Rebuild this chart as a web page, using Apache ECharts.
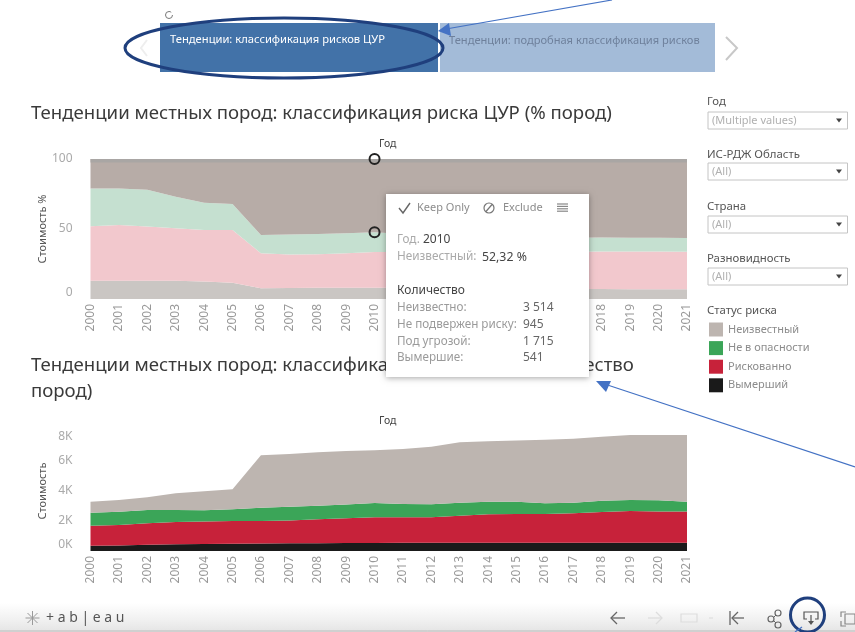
<!DOCTYPE html>
<html><head><meta charset="utf-8">
<script src="https://cdn.jsdelivr.net/npm/echarts@6/dist/echarts.min.js"></script>
<style>html,body{margin:0;background:#fff}#c{width:855px;height:632px}</style></head>
<body><div id="c"></div>
<script>
const years=['2000','2001','2002','2003','2004','2005','2006','2007','2008','2009','2010','2011','2012','2013','2014','2015','2016','2017','2018','2019','2020','2021'];
const shareExtinct=[13,13,13,13,12.5,11.6,7.6,7.8,8,8,8.06,8,7.9,7.7,7.5,7.4,7.3,7.2,7.1,7,7,7];
const shareAtRisk=[39,39.9,38.7,37.5,36.8,37.7,25,24,24,24.7,25.54,25.5,25.1,25.3,26,26.2,26.4,26.6,26.8,27,27,26.8];
const shareNotAtRisk=[27,26.1,26.3,22.5,19.5,18.6,13.1,14.2,14.5,14.3,14.07,13,12,11.5,11,10.7,10.2,10,10,9.8,9.8,9.7];
const shareUnknown=[21,21,22,27,31.2,32.1,54.3,54,53.5,53,52.32,53.5,55,55.5,55.5,55.7,56.1,56.2,56.1,56.2,56.2,56.5];
const countExtinct=[350,370,410,450,470,490,500,510,520,530,541,545,550,550,550,550,550,550,550,550,550,550];
const countAtRisk=[1337,1363,1437,1483,1490,1510,1500,1520,1593,1650,1715,1702,1700,1803,1897,1917,1917,1963,2050,2117,2090,2090];
const countNotAtRisk=[866,887,886,800,751,780,887,923,907,920,945,886,863,867,840,820,713,707,753,733,740,647];
const countUnknown=[734,780,847,1114,1269,1333,3493,3514,3560,3567,3514,3667,3840,4027,4026,4073,4240,4267,4267,4333,4353,4446];
const shareTicks=[0,50,100];
const countTickStep=2000;
const statusNames=['Неизвестный','Не в опасности','Рискованно','Вымерший'];
const title1='Тенденции местных пород: классификация риска ЦУР (% пород)';
const title2a='Тенденции местных пород: классификация риска ЦУР (количество';
const title2b='пород)';
const filters=[['Год','(Multiple values)'],['ИС-РДЖ Область','(All)'],['Страна','(All)'],['Разновидность','(All)']];
const tipRows=[['Неизвестно:','3 514'],['Не подвержен риску:','945'],['Под угрозой:','1 715'],['Вымершие:','541']];

const FONT='"Noto Sans"';
const Z=50;
const els=[];
function txt(x,y,s,size,color,extra){els.push({type:'text',z:Z,x:x,y:y,style:Object.assign({text:s,font:size+'px '+FONT,fill:color,verticalAlign:'middle',align:'left'},extra||{})});}
function rect(x,y,w,h,style,extra){els.push(Object.assign({type:'rect',z:Z,shape:{x:x,y:y,width:w,height:h},style:style},extra||{}));}
function poly(pts,color,w){els.push({type:'polyline',z:Z,shape:{points:pts},style:{stroke:color,lineWidth:w||1.5,fill:null}});}
function line(x1,y1,x2,y2,color,w){els.push({type:'line',z:Z,shape:{x1:x1,y1:y1,x2:x2,y2:y2},style:{stroke:color,lineWidth:w||1.5}});}
function circ(cx,cy,r,color,w){els.push({type:'circle',z:Z,shape:{cx:cx,cy:cy,r:r},style:{stroke:color,lineWidth:w||1.5,fill:null}});}

// toolbar
rect(0,603,855,29,{fill:new echarts.graphic.LinearGradient(0,0,0,1,[{offset:0,color:'#ffffff'},{offset:.6,color:'#f0f0f0'},{offset:1,color:'#e4e4e4'}])});
line(0,631,855,631,'#bbbbbb',1);
// logo
const lx=32.5,ly=618;
[[ -7,0,7,0],[0,-7,0,7],[-5,-5,5,5],[-5,5,5,-5]].forEach(a=>line(lx+a[0],ly+a[1],lx+a[2],ly+a[3],'#9a9a9a',1));
txt(46,618,'+ a b | e a u',14,'#555');
// toolbar icons
poly([[617,612],[611,618],[617,624]],'#666',1.3);line(611,618,625,618,'#666',1.3);
poly([[656,612],[662,618],[656,624]],'#ddd',1.3);line(648,618,662,618,'#ddd',1.3);
rect(681,614,16,8,{fill:'none',stroke:'#ddd',lineWidth:1.2});
line(709,618,713,618,'#ddd',1.2);
line(730,611,730,625,'#666',1.3);poly([[738,612],[732,618],[738,624]],'#666',1.3);line(732,618,744,618,'#666',1.3);
circ(771,619,3,'#666',1.2);circ(778,613,3,'#666',1.2);circ(778,625,3,'#666',1.2);line(774,617,776,615,'#666',1);line(774,621,776,623,'#666',1);
poly([[807,619],[804,619],[804,612],[818,612],[818,619],[815,619]],'#555',1.2);line(811,615,811,623,'#555',1.2);
els.push({type:'polygon',z:Z,shape:{points:[[808,621],[814,621],[811,625]]},style:{fill:'#555'}});
poly([[841,617],[841,612],[846,612]],'#888',1.2);poly([[841,621],[841,626],[846,626]],'#888',1.2);rect(845,614,10,10,{fill:'none',stroke:'#888',lineWidth:1.2});
circ(807.5,615,17,'#1f3f7d',3);
line(795,632,802,627,'#4472c4',1.2);

// tabs
rect(160,23,278,49,{fill:'#4272a8'});
rect(440,23,275,49,{fill:'#a3bbd8'});
line(439,23,439,72,'#ffffff',2);
txt(170,40,'Тенденции: классификация рисков ЦУР',11.2,'#ffffff');
txt(449,41,'Тенденции: подробная классификация рисков',11.1,'#6f819c');
poly([[726,37],[737,48],[726,60]],'#c8c8c8',2);
poly([[147,40],[141,48],[147,56]],'#eeeeee',2);
els.push({type:'arc',z:Z,shape:{cx:169,cy:15,r:3.5,startAngle:0,endAngle:5.4,clockwise:true},style:{stroke:'#777',lineWidth:1,fill:null}});
els.push({type:'ellipse',z:Z,shape:{cx:284,cy:48,rx:159,ry:30},style:{stroke:'#1f3f7d',lineWidth:3,fill:null}});
line(612,0,446,29,'#4472c4',1.2);
els.push({type:'polygon',z:Z,shape:{points:[[438,31],[449,23],[451,36]]},style:{fill:'#4472c4'}});

// titles
txt(31,113.5,title1,18.6,'#3a3a3a');
txt(31,366,title2a,18.6,'#3a3a3a');
txt(31,392,title2b,18.6,'#3a3a3a');
txt(379,144,'Год',10.5,'#444');
txt(379,421,'Год',10.5,'#444');

// filters
const fy=[112,163,216,268];
const fly=[102,155,207,259];
filters.forEach((f,i)=>{
  txt(707,fly[i],f[0],11.4,'#555');
  rect(708,fy[i],139.5,17,{fill:'#fff',stroke:'#c4c4c4',lineWidth:1});
  txt(712,fy[i]+8.5,f[1],11,'#b0b0b0');
  els.push({type:'polygon',z:Z,shape:{points:[[836,fy[i]+6.5],[842,fy[i]+6.5],[839,fy[i]+10.5]]},style:{fill:'#444'}});
});
txt(707,311,'Статус риска',11.4,'#555');

// tooltip
rect(386,194,203,183,{fill:'#ffffff',shadowBlur:6,shadowColor:'rgba(0,0,0,0.35)',shadowOffsetY:1});
poly([[399,208],[403,213],[410,203]],'#666',1.4);
txt(417,208,'Keep Only',11,'#8c8c8c');
circ(489,208,5,'#777',1.2);line(486,211.5,492,204.5,'#777',1.2);
txt(503,208,'Exclude',11,'#8c8c8c');
[0,1,2,3].forEach(i=>line(557,204+i*2.4,568,204+i*2.4,'#888',1.2));
txt(397,240,'Год.',11.7,'#aaaaaa');txt(423,240,'2010',12,'#444');
txt(397,257,'Неизвестный:',11.8,'#aaaaaa');txt(482,257,'52,32 %',12.3,'#444');
txt(397,291,'Количество',12,'#444');
const ry=[308,325,342,358];
tipRows.forEach((r,i)=>{txt(397,ry[i],r[0],11.7,'#9a9a9a');txt(523,ry[i],r[1],12,'#666');});

// second arrow
line(855,467,606,384.5,'#4472c4',1.2);
els.push({type:'polygon',z:Z,shape:{points:[[596,381],[611,381],[606,392]]},style:{fill:'#4472c4'}});

const commonX=(g)=>({type:'category',gridIndex:g,data:years,boundaryGap:false,axisLine:{show:false},axisTick:{show:false},
  axisLabel:{interval:0,rotate:90,margin:5,fontFamily:FONT,fontSize:12,color:'#999'}});
const commonY=(g,name)=>({type:'value',gridIndex:g,name:name,nameLocation:'middle',nameGap:42,nameMoveOverlap:false,nameTextStyle:{fontFamily:FONT,fontSize:11,color:'#555'},
  splitLine:{show:false},axisLine:{show:false},axisTick:{show:false}});
const area=(name,data,color,g,z)=>({name:name,type:'line',stack:'s'+g,data:data,xAxisIndex:g,yAxisIndex:g,symbol:'none',
  lineStyle:{width:0},areaStyle:{color:color,opacity:1},itemStyle:{color:color},emphasis:{disabled:true},z:z,animation:false});

const topUnknown=area(statusNames[0],shareUnknown,'#b7aca7',0,2);
topUnknown.markArea={silent:true,z:5,itemStyle:{color:'#a9a6a4'},data:[[{yAxis:97.5},{yAxis:shareTicks[2]}]]};
topUnknown.markPoint={symbol:'circle',symbolSize:10,silent:true,z:6,label:{show:false},itemStyle:{color:'rgba(0,0,0,0)',borderColor:'#222',borderWidth:2},
  data:[{coord:['2010',shareTicks[2]]},{coord:['2010',shareTicks[2]-shareUnknown[10]]}]};

const option={
  animation:false,
  textStyle:{fontFamily:FONT},
  grid:[{left:90.5,top:159,width:596.5,height:140},{left:90.5,top:431,width:596.5,height:120}],
  xAxis:[commonX(0),commonX(1)],
  yAxis:[
    Object.assign(commonY(0,'Стоимость %'),{min:shareTicks[0],max:shareTicks[2],interval:shareTicks[1],
      axisLabel:{margin:18,fontFamily:FONT,fontSize:12,color:'#aaa',verticalAlignMinLabel:'bottom',verticalAlignMaxLabel:'middle'}}),
    Object.assign(commonY(1,'Стоимость'),{min:0,max:8000,interval:countTickStep,
      axisLabel:{margin:18,fontFamily:FONT,fontSize:12,color:'#aaa',verticalAlignMinLabel:'bottom',verticalAlignMaxLabel:'top',formatter:v=>(v/1000)+'K'}})
  ],
  legend:{orient:'vertical',left:704,top:317.5,itemWidth:14,itemHeight:14,itemGap:4.6,icon:'rect',selectedMode:false,
    textStyle:{fontFamily:FONT,fontSize:11,color:'#8c8c8c'},
    data:[{name:statusNames[0],itemStyle:{color:'#bdb5b0'}},{name:statusNames[1],itemStyle:{color:'#3ba558'}},{name:statusNames[2],itemStyle:{color:'#c7223a'}},{name:statusNames[3],itemStyle:{color:'#1a1a1a'}}]},
  series:[
    area(statusNames[3],shareExtinct,'#cac6c3',0,2),
    area(statusNames[2],shareAtRisk,'#f2c8cd',0,2),
    area(statusNames[1],shareNotAtRisk,'#c5e0d0',0,2),
    topUnknown,
    area(statusNames[3],countExtinct,'#1a1a1a',1,2),
    area(statusNames[2],countAtRisk,'#c7223a',1,2),
    area(statusNames[1],countNotAtRisk,'#3ba558',1,2),
    area(statusNames[0],countUnknown,'#bdb5b0',1,2)
  ],
  graphic:{elements:els}
};
const chart=echarts.init(document.getElementById('c'),null,{renderer:'canvas'});
chart.setOption(option);
</script></body></html>
